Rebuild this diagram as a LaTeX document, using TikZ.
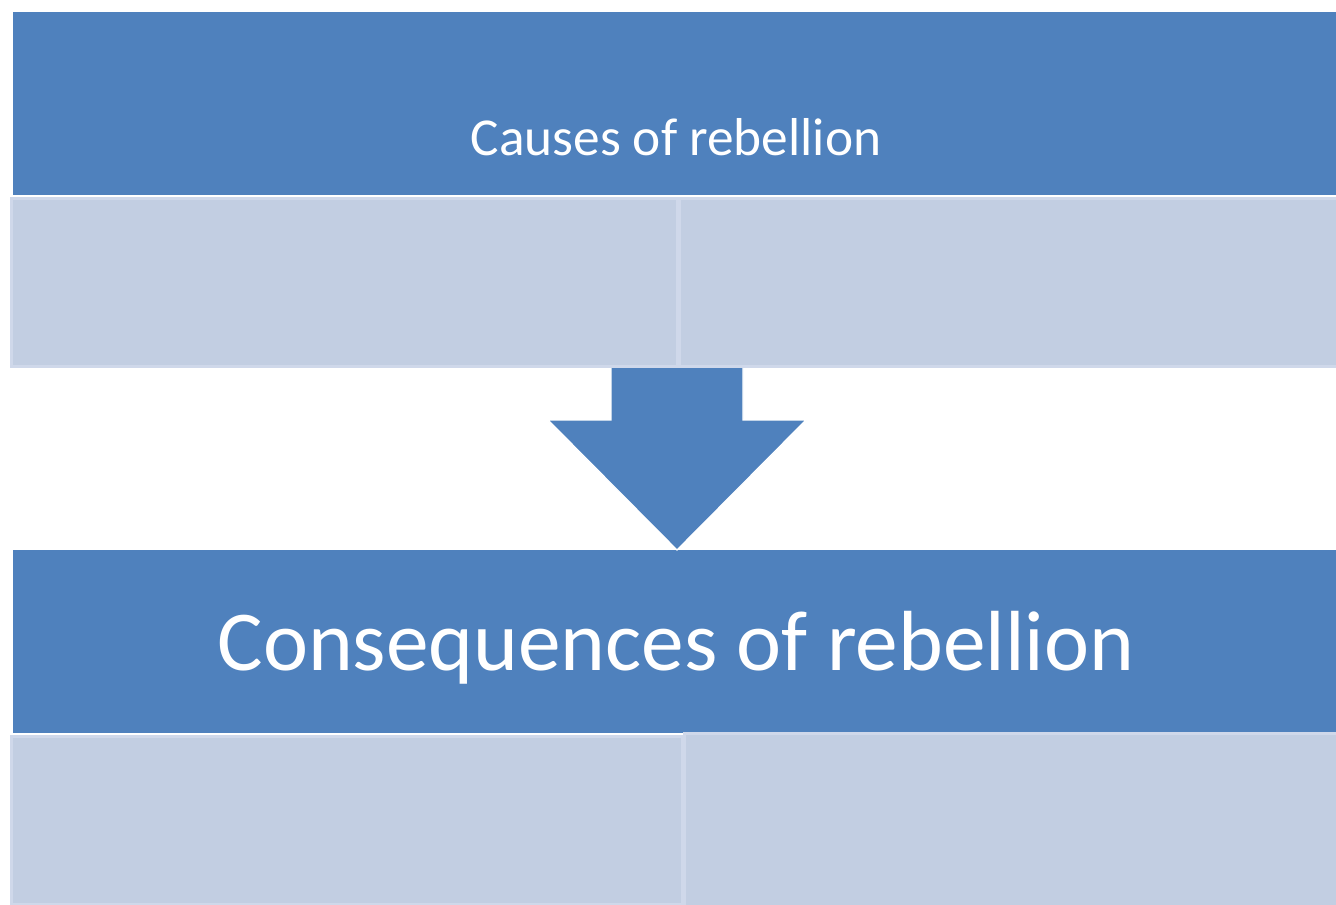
\documentclass[tikz,border=0pt]{standalone}
\usepackage{fontspec}
\setmainfont{Carlito}
\usetikzlibrary{positioning, calc}
\definecolor{cblue}{HTML}{4F81BD}
\definecolor{clight}{HTML}{C2CEE2}
\definecolor{cedge}{HTML}{CFD8EA}

\begin{document}
\begin{tikzpicture}[
    x=0.75pt, y=-0.75pt,
    node distance=0pt,
    headbox/.style={fill=cblue, minimum width=992.25pt, minimum height=137.25pt, inner sep=0pt, anchor=north west},
    subbox/.style={fill=clight, draw=cedge, line width=2.5pt, minimum height=126pt, inner sep=0pt, anchor=north west},
    headtext/.style={text=white, inner sep=0pt, anchor=base}
]
\useasboundingbox (0,0) rectangle (1336,904);
\node[headbox] (causes) at (13,12) {};
\node[headbox] (conseq) at (13,550) {};
\node[headtext, font=\fontsize{40}{48}\selectfont] (causestxt) at (676,155) {Causes of rebellion};
\node[headtext, font=\fontsize{64}{76}\selectfont] (conseqtxt) at (676,670) {Consequences of rebellion};
% arrow between the two parts
\fill[cblue, draw=white, line width=1pt] (611,362) -- (743,362) -- (743,420) -- (806,420) -- (677,550) -- (548,420) -- (611,420) -- cycle;
\node[subbox, minimum width=500pt] (causesl) at (9.5,196.5) {};
\node[subbox, minimum width=494pt] (causesr) at (677.5,196.5) {};
\node[subbox, minimum width=503.5pt] (conseql) at (9.5,734.5) {};
\node[subbox, minimum width=490pt, minimum height=130pt] (conseqr) at (682.5,731.5) {};
\end{tikzpicture}
\end{document}
